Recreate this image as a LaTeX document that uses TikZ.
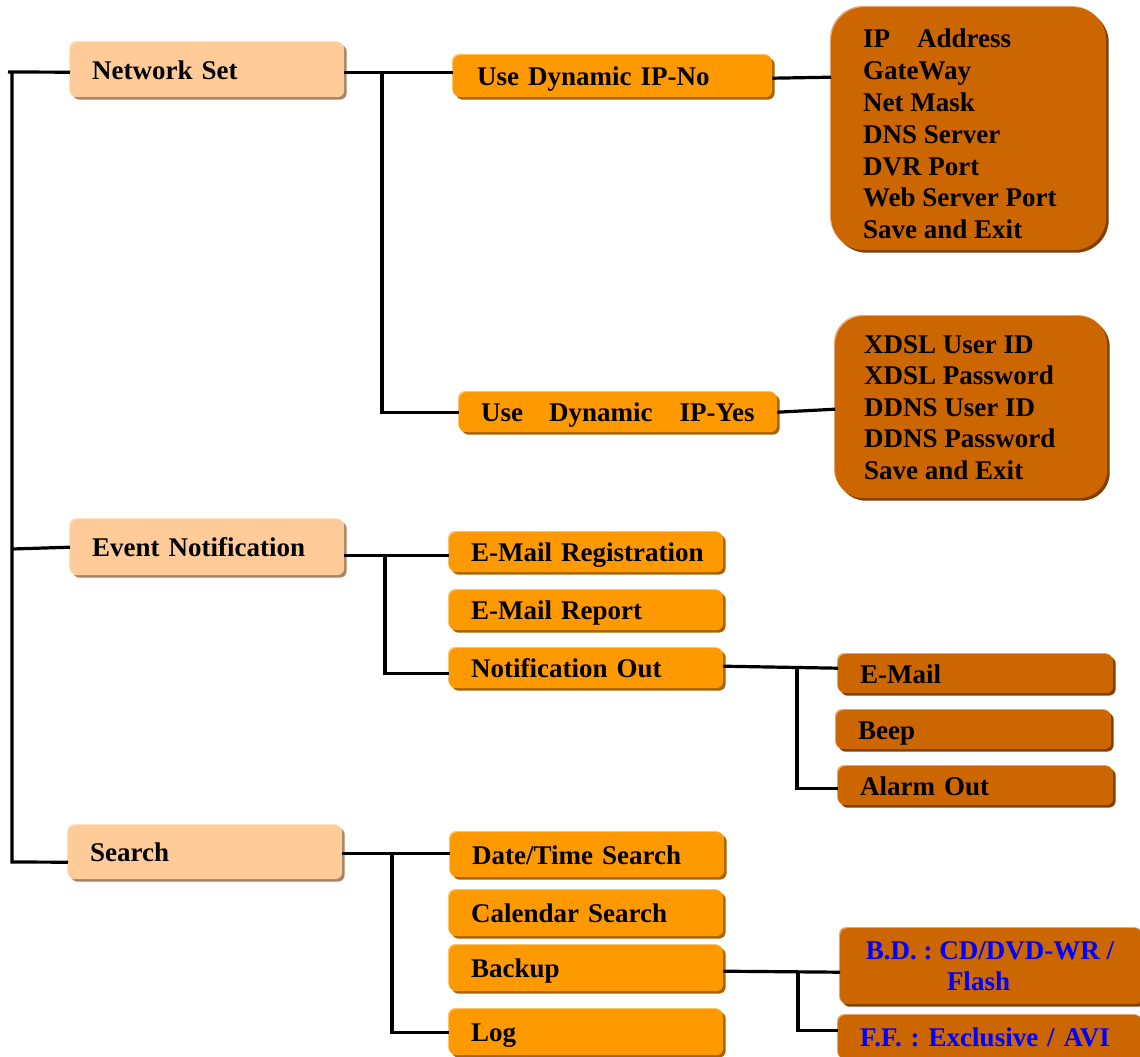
\documentclass[tikz,border=0pt]{standalone}
\usepackage{fontspec}
\setmainfont{Liberation Serif}
\usetikzlibrary{shadows,calc}
\definecolor{cA}{HTML}{FFCC99}
\definecolor{cAd}{HTML}{A88462}
\definecolor{cAl}{HTML}{FFE3C8}
\definecolor{cB}{HTML}{FF9900}
\definecolor{cBd}{HTML}{A86400}
\definecolor{cBl}{HTML}{FFC266}
\definecolor{cC}{HTML}{CC6600}
\definecolor{cCd}{HTML}{7F3F00}
\definecolor{cCl}{HTML}{E6A673}
\definecolor{txtblue}{HTML}{0000FF}
\frenchspacing
\tikzset{
  bigfont/.style={font=\fontsize{27}{31.8}\selectfont\bfseries\frenchspacing},
  basebox/.style={bigfont, rounded corners=7pt, inner sep=0pt, inner xsep=22pt,
    anchor=north west, text height=19pt, text depth=0pt, align=left},
  lvlA/.style={basebox, fill=cA,
    general shadow={fill=cAd, shadow xshift=2.5pt, shadow yshift=-2.5pt},
    general shadow={fill=cAl, shadow xshift=-1.2pt, shadow yshift=1.2pt}},
  lvlB/.style={basebox, fill=cB,
    general shadow={fill=cBd, shadow xshift=2.5pt, shadow yshift=-2.5pt},
    general shadow={fill=cBl, shadow xshift=-1.2pt, shadow yshift=1.2pt}},
  lvlC/.style={basebox, fill=cC,
    general shadow={fill=cCd, shadow xshift=2.5pt, shadow yshift=-2.5pt},
    general shadow={fill=cCl, shadow xshift=-1.2pt, shadow yshift=1.2pt}},
  listtext/.style={bigfont, anchor=north west, inner sep=0pt, align=left},
  conn/.style={draw=black, line width=3.2pt},
}
\begin{document}
\begin{tikzpicture}[x=1pt, y=-1pt]
\useasboundingbox (0,0) rectangle (1140,1057);
\clip (0,0) rectangle (1140,1057);

% level 1
\node[lvlA, minimum width=274pt, minimum height=55pt, text width=230pt] (ns) at (70,42) {\mbox{Network Set}};
\node[lvlA, minimum width=274pt, minimum height=56pt, text width=230pt] (en) at (70,519) {\mbox{Event Notification}};
\node[lvlA, minimum width=274pt, minimum height=54pt, text width=230pt] (se) at (68,825) {Search};

% level 2
\node[lvlB, minimum width=319pt, minimum height=42pt, inner xsep=24pt, text width=271pt] (ipno) at (453,55) {\mbox{Use Dynamic IP-No}};
\node[lvlB, minimum width=318pt, minimum height=40pt, text width=274pt] (ipyes) at (459,392) {\mbox{Use\hspace{26pt}Dynamic\hspace{27pt}IP-Yes}};
\node[lvlB, minimum width=274pt, minimum height=40pt, text width=230pt] (emr) at (449,532) {\mbox{E-Mail Registration}};
\node[lvlB, minimum width=274pt, minimum height=40pt, text width=230pt] (emrep) at (449,590) {\mbox{E-Mail Report}};
\node[lvlB, minimum width=274pt, minimum height=40pt, text width=230pt] (nout) at (449,648) {\mbox{Notification Out}};
\node[lvlB, minimum width=274pt, minimum height=45pt, text width=230pt] (dts) at (450,832) {\mbox{Date/Time Search}};
\node[lvlB, minimum width=274pt, minimum height=46pt, text width=230pt] (cal) at (449,890) {\mbox{Calendar Search}};
\node[lvlB, minimum width=274pt, minimum height=46pt, text width=230pt] (bk) at (449,945) {Backup};
\node[lvlB, minimum width=274pt, minimum height=46pt, text width=230pt] (log) at (449,1009) {Log};

% level 3
\node[lvlC, rounded corners=33pt, minimum width=275pt, minimum height=243pt, text width=231pt] (box1) at (831,7) {};
\node[listtext] (box1text) at (863,29) {IP\hspace{27pt}Address\\GateWay\\Net Mask\\DNS Server\\DVR Port\\Web Server Port\\Save and Exit};
\node[lvlC, rounded corners=28pt, minimum width=272pt, minimum height=182pt, text width=228pt] (box2) at (835,316) {};
\node[listtext, font=\fontsize{27}{31.6}\selectfont\bfseries] (box2text) at (864,335) {XDSL User ID\\XDSL Password\\DDNS User ID\\DDNS Password\\Save and Exit};

\node[lvlC, minimum width=275pt, minimum height=39pt, text width=231pt] (email) at (838,654) {E-Mail};
\node[lvlC, minimum width=275pt, minimum height=39pt, text width=231pt] (beep) at (836,710) {Beep};
\node[lvlC, minimum width=275pt, minimum height=39pt, text width=231pt] (alarm) at (838,766) {\mbox{Alarm Out}};

\node[lvlC, minimum width=302pt, minimum height=76pt, text width=258pt] (bd) at (840,928) {};
\node[anchor=north, inner sep=0pt, align=center, text=txtblue,
  font=\fontsize{27}{31}\selectfont\bfseries\frenchspacing] (bdtext) at (990,941) {B.D. : CD/DVD-WR /\\Flash\hspace*{23pt}};
\node[lvlC, minimum width=304pt, minimum height=44pt, text width=260pt, text=txtblue] (ff) at (838,1015) {\mbox{F.F. : Exclusive / AVI}};

% branch points
\coordinate (tTop) at (12,72);
\coordinate (tEv) at (12,549);
\coordinate (tBot) at (12,862);
\coordinate (b1) at (382,72);
\coordinate (b2) at (385,555);
\coordinate (b3) at (797,667);
\coordinate (b4) at (392,853);
\coordinate (b5) at (798,971);

% connectors
\draw[conn] ([yshift=-2.5pt]ns.west) -- (8,72) (tTop) -- (tBot) -- ([yshift=-10pt]se.west);
\draw[conn] (tEv) -- (en.west);
\draw[conn] ([yshift=-2.5pt]ns.east) -- ([yshift=4pt]ipno.west);
\draw[conn] (b1) |- (ipyes.west);
\draw[conn] ([yshift=-2pt]ipno.east) -- ($(box1.west |- ipno.east)+(0,1)$);
\draw[conn] (ipyes.east) -- ($(box2.west |- ipyes.east)+(0,-3)$);

\draw[conn] ([yshift=-8pt]en.east) -- ([yshift=-3pt]emr.west);
\draw[conn] (b2) |- ([yshift=-5pt]nout.west);
\draw[conn] ([yshift=2pt]nout.east) -- ([yshift=5.5pt]email.west);
\draw[conn] (b3) |- ([yshift=-3pt]alarm.west);

\draw[conn] ([yshift=-1pt]se.east) -- ([yshift=1.5pt]dts.west);
\draw[conn] (b4) |- (log.west);
\draw[conn] ([yshift=-3pt]bk.east) -- ($(bd.west |- bk.east)+(0,4)$);
\draw[conn] (b5) |- ([yshift=7pt]ff.west);
\end{tikzpicture}
\end{document}
